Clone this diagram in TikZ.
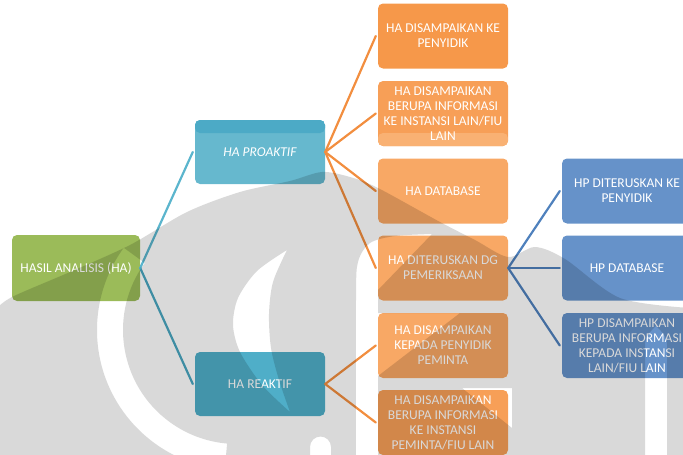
\documentclass[tikz,border=0pt]{standalone}
\usepackage{fontspec}
\setmainfont{Carlito}
\usetikzlibrary{calc}
\definecolor{grn}{HTML}{9BBB59}
\definecolor{proak}{HTML}{66B8CE}
\definecolor{proaktop}{HTML}{4CAAC6}
\definecolor{reak}{HTML}{4FAEC8}
\definecolor{orA}{HTML}{F6984A}
\definecolor{orB}{HTML}{F79F57}
\definecolor{orC}{HTML}{F8A865}
\definecolor{orlight}{HTML}{F9B173}
\definecolor{blu}{HTML}{6692C9}
\definecolor{tealA}{HTML}{5BB5CD}
\definecolor{tealB}{HTML}{4AA6C0}
\definecolor{orline}{HTML}{F28E3F}
\definecolor{bluline}{HTML}{4F81BD}
\begin{document}
\begin{tikzpicture}[x=1pt,y=-1pt,
  box/.style={rounded corners=5pt, minimum width=130pt, minimum height=65pt,
    inner sep=0pt, text=white, align=center, font=\fontsize{13.5}{15}\selectfont},
  con/.style={line width=2.2pt, line cap=round}]
\useasboundingbox (0,0) rectangle (683,455);
\clip (0,0) rectangle (683,455);
% root
\node[box, fill=grn, minimum width=128pt, minimum height=66pt] (ha) at (76,268) {HASIL ANALISIS (HA)};
% level 1
\node[box, fill=proak, minimum height=64pt,
  path picture={\fill[proaktop] (path picture bounding box.north west) rectangle ([yshift=-13pt]path picture bounding box.north east);}]
  (pro) at (260,152) {\itshape HA PROAKTIF};
\node[box, fill=reak, minimum height=64pt] (rea) at (260,384) {HA REAKTIF};
% level 2 (orange)
\node[box, fill=orA] (o1) at (443,36) {HA DISAMPAIKAN KE\\PENYIDIK};
\node[box, fill=orB,
  path picture={\fill[orlight] ([yshift=13pt]path picture bounding box.south west) rectangle (path picture bounding box.south east);}]
  (o2) at (443,113.5) {HA DISAMPAIKAN\\BERUPA INFORMASI\\KE INSTANSI LAIN/FIU\\LAIN};
\node[box, fill=orC] (o3) at (443,191) {HA DATABASE};
\node[box, fill=orC] (o4) at (443,268) {HA DITERUSKAN DG\\PEMERIKSAAN};
\node[box, fill=orC] (o5) at (443,345.5) {HA DISAMPAIKAN\\KEPADA PENYIDIK\\PEMINTA};
\node[box, fill=orB] (o6) at (443,422.5) {HA DISAMPAIKAN\\BERUPA INFORMASI\\KE INSTANSI\\PEMINTA/FIU LAIN};
% level 3 (blue)
\node[box, fill=blu] (b1) at (627,191) {HP DITERUSKAN KE\\PENYIDIK};
\node[box, fill=blu] (b2) at (627,268) {HP DATABASE};
\node[box, fill=blu] (b3) at (627,345.5) {HP DISAMPAIKAN\\BERUPA INFORMASI\\KEPADA INSTANSI\\LAIN/FIU LAIN};
% connectors
\draw[con, tealA] (ha.east) -- ([xshift=-2pt]pro.west);
\draw[con, tealB] (ha.east) -- ([xshift=-2pt]rea.west);
\foreach \t in {o1,o2,o3,o4} \draw[con, orline] (pro.east) -- ([xshift=-2pt]\t.west);
\foreach \t in {o5,o6} \draw[con, orline] (rea.east) -- ([xshift=-2pt]\t.west);
\foreach \t in {b1,b2,b3} \draw[con, bluline] (o4.east) -- ([xshift=-2pt]\t.west);
% watermark: translucent grey shading over the diagram, with white openings
\begin{scope}
  \clip plot[smooth] coordinates {(-5,310) (12,297) (70,272) (130,245) (187,212) (240,192) (290,181) (322,172) (350,177) (378,188) (440,222) (475,240) (508,257) (535,247) (565,259) (620,298) (690,308)}
    -- (690,460) -- (-5,460) -- cycle;
  \fill[black, opacity=0.15, even odd rule]
    (-10,-10) rectangle (700,470)
    (237,330) ++(95:140) arc[start angle=95, end angle=216, radius=140]
      -- ($(237,330)+(216:114)$) arc[start angle=216, end angle=95, radius=114] -- cycle
    plot[smooth] coordinates {(287,250) (257,271) (238,298) (233,325) (240,352) (262,385) (290,412)}
      -- plot[smooth] coordinates {(290,412) (279,380) (271,348) (269,314) (273,282) (287,250)} -- cycle
    plot[smooth] coordinates {(356,465) (356,300) (358,262) (370,243) (395,236) (432,234)}
      -- (378,290) -- (378,313) -- (460,313) -- (378,376) -- (378,465) -- cycle
    (462,388) -- (512,388) -- (512,428) -- cycle
    (645,465) -- (645,345) .. controls (645,335) and (652,330) .. (656,326)
      .. controls (660,330) and (667,335) .. (667,345) -- (667,465) -- cycle
    (310,465) -- (310,447) arc[start angle=180, end angle=360, radius=10.5] -- (331,465) -- cycle;
\end{scope}
\end{tikzpicture}
\end{document}
